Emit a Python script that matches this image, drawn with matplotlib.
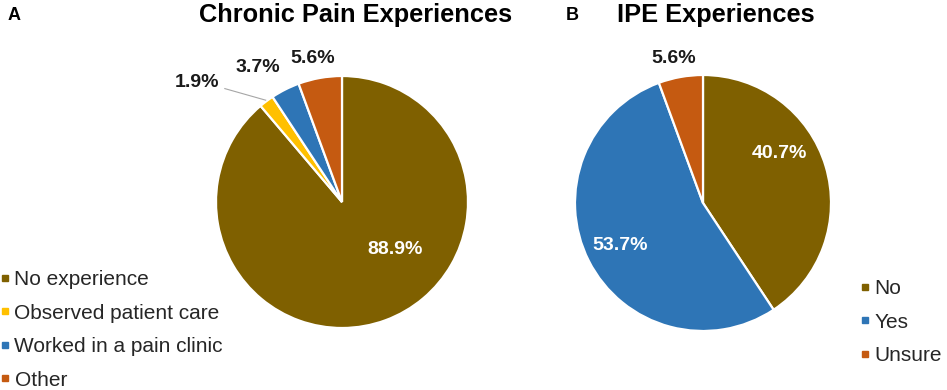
import matplotlib
matplotlib.use('Agg')
import matplotlib.pyplot as plt
from matplotlib.lines import Line2D
import numpy as np

plt.rcParams['font.family'] = ['Liberation Sans', 'DejaVu Sans']

# data
pain_labels = ['No experience', 'Observed patient care', 'Worked in a pain clinic', 'Other']
pain_values = [88.9, 1.9, 3.7, 5.6]
ipe_labels = ['No', 'Yes', 'Unsure']
ipe_values = [40.7, 53.7, 5.6]

brown = '#7F6000'
yellow = '#FFC000'
blue = '#2E75B6'
orange = '#C55A11'
pain_colors = [brown, yellow, blue, orange]
ipe_colors = [brown, blue, orange]

W, H = 947, 390
fig = plt.figure(figsize=(W / 100, H / 100), dpi=100)


def pie_axes(cx, cy, r):
    return fig.add_axes([(cx - r) / W, 1 - (cy + r) / H, 2 * r / W, 2 * r / H])


def draw_pie(ax, values, colors):
    wedges, _ = ax.pie(values, colors=colors, startangle=90, counterclock=False,
                       wedgeprops=dict(edgecolor='white', linewidth=1.6))
    ax.set_xlim(-1, 1)
    ax.set_ylim(-1, 1)
    ax.set_aspect('equal')
    ax.axis('off')
    return wedges


def mid_angle(values, i):
    tot = sum(values)
    start = sum(values[:i]) / tot
    return np.deg2rad(90 - 360 * (start + values[i] / tot / 2))


# ---- panel A
axA = pie_axes(342, 202, 126)
draw_pie(axA, pain_values, pain_colors)
pos_a = [(0.42, -0.38, 'white'), (-1.15, 0.95, '#1a1a1a'),
         (-0.67, 1.07, '#1a1a1a'), (-0.23, 1.14, '#1a1a1a')]
for v, (x, y, c) in zip(pain_values, pos_a):
    axA.text(x, y, f'{v:.1f}%', ha='center', va='center', fontsize=14,
             fontweight='bold', color=c)
a = mid_angle(pain_values, 1)
axA.plot([np.cos(a) * 1.01, -0.93], [np.sin(a) * 1.01, 0.9], color='#a6a6a6',
         lw=0.8, clip_on=False)

# ---- panel B
axB = pie_axes(703, 203, 128)
draw_pie(axB, ipe_values, ipe_colors)
pos_b = [(0.6, 0.39, 'white'), (-0.65, -0.33, 'white'), (-0.23, 1.13, '#1a1a1a')]
for v, (x, y, c) in zip(ipe_values, pos_b):
    axB.text(x, y, f'{v:.1f}%', ha='center', va='center', fontsize=14,
             fontweight='bold', color=c)

# titles
fig.text(356 / W, 1 - 15 / H, 'Chronic Pain Experiences', ha='center', va='center',
         fontsize=18.3, fontweight='bold')
fig.text(716 / W, 1 - 15 / H, 'IPE Experiences', ha='center', va='center',
         fontsize=18.3, fontweight='bold')
fig.text(14 / W, 1 - 15 / H, 'A', ha='center', va='center', fontsize=13, fontweight='bold')
fig.text(572 / W, 1 - 15 / H, 'B', ha='center', va='center', fontsize=13, fontweight='bold')


def legend(labels, colors, x, y):
    handles = [Line2D([], [], marker='s', ls='none', color=c, markersize=5) for c in colors]
    fig.legend(handles, labels, loc='upper left', bbox_to_anchor=(x / W, 1 - y / H),
               frameon=False, fontsize=15, handlelength=0.3, handletextpad=0.3,
               labelspacing=0.7, borderpad=0, borderaxespad=0, labelcolor='#262626')


legend(pain_labels, pain_colors, 2, 270)
legend(ipe_labels, ipe_colors, 862, 279)

fig.savefig('out.png', dpi=100)
